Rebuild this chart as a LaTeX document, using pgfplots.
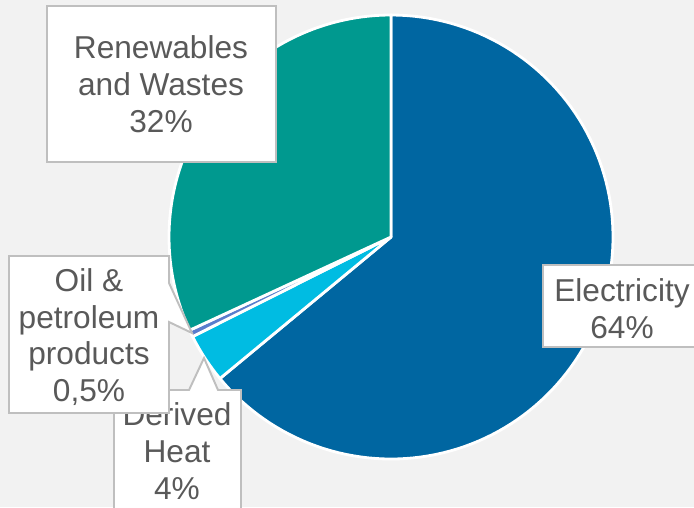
\documentclass[border=0pt]{standalone}
\usepackage{pgfplots}
\pgfplotsset{compat=1.18}
\usepackage{fontspec}
\setmainfont{Liberation Sans}
\definecolor{bg}{RGB}{242,242,242}
\definecolor{elec}{RGB}{0,102,161}
\definecolor{renew}{RGB}{0,153,143}
\definecolor{heat}{RGB}{0,188,226}
\definecolor{oil}{RGB}{91,125,205}
\definecolor{txt}{RGB}{89,89,89}
\definecolor{boxline}{RGB}{191,191,191}
\tikzset{lbl/.style={font=\fontsize{9}{10.5}\selectfont, text=txt, align=center, inner sep=0pt}}
% shares in percent
\def\vE{64}
\def\vD{3.6}
\def\vO{0.5}
\def\vR{31.9}
\pgfmathsetmacro\aA{90}
\pgfmathsetmacro\aB{\aA-3.6*\vE}
\pgfmathsetmacro\aC{\aB-3.6*\vD}
\pgfmathsetmacro\aD{\aC-3.6*\vO}
\pgfmathsetmacro\aE{\aD-3.6*\vR}
\begin{document}
\begin{tikzpicture}
\useasboundingbox (0,0) rectangle (69.4mm,50.7mm);
\clip (0,0) rectangle (69.4mm,50.7mm);
\fill[bg] (0,0) rectangle (69.4mm,50.7mm);
\begin{axis}[
  at={(0,0)}, anchor=south west,
  scale only axis, width=69.4mm, height=50.7mm,
  xmin=0, xmax=694, ymin=0, ymax=507, y dir=reverse,
  hide axis, clip=false,
]
\addplot[fill=elec, draw=white, line width=0.8pt, line join=round, domain=\aA:\aB, samples=120, variable=\t]
  ({391+222*cos(t)},{237-222*sin(t)}) -- (axis cs:391,237) -- cycle;
\addplot[fill=heat, draw=white, line width=0.8pt, line join=round, domain=\aB:\aC, samples=20, variable=\t]
  ({391+222*cos(t)},{237-222*sin(t)}) -- (axis cs:391,237) -- cycle;
\addplot[fill=oil, draw=white, line width=0.8pt, line join=round, domain=\aC:\aD, samples=5, variable=\t]
  ({391+222*cos(t)},{237-222*sin(t)}) -- (axis cs:391,237) -- cycle;
\addplot[fill=renew, draw=white, line width=0.8pt, line join=round, domain=\aD:\aE, samples=80, variable=\t]
  ({391+222*cos(t)},{237-222*sin(t)}) -- (axis cs:391,237) -- cycle;
% Renewables label
\draw[fill=white, draw=boxline, line width=0.55pt] (axis cs:47,6) rectangle (axis cs:276,162);
\node[lbl] at (axis cs:161,84) {Renewables\\and Wastes\\32\%};
% Electricity label
\draw[fill=white, draw=boxline, line width=0.55pt] (axis cs:543,265) rectangle (axis cs:700,347);
\node[lbl] at (axis cs:622,309) {Electricity\\64\%};
% Derived heat label (callout)
\draw[fill=white, draw=boxline, line width=0.55pt] (axis cs:114,520) -- (axis cs:114,390) -- (axis cs:189,390)
  -- (axis cs:204,358) -- (axis cs:218,390) -- (axis cs:241,390) -- (axis cs:241,520);
\node[lbl] at (axis cs:177,451) {Derived\\Heat\\4\%};
% Oil label (callout)
\draw[fill=white, draw=boxline, line width=0.55pt] (axis cs:9,256) -- (axis cs:169,256) -- (axis cs:169,283)
  -- (axis cs:192,333) -- (axis cs:169,322) -- (axis cs:169,413) -- (axis cs:9,413) -- cycle;
\node[lbl] at (axis cs:89,337) {Oil \&\\petroleum\\products\\0,5\%};
\end{axis}
\end{tikzpicture}
\end{document}
